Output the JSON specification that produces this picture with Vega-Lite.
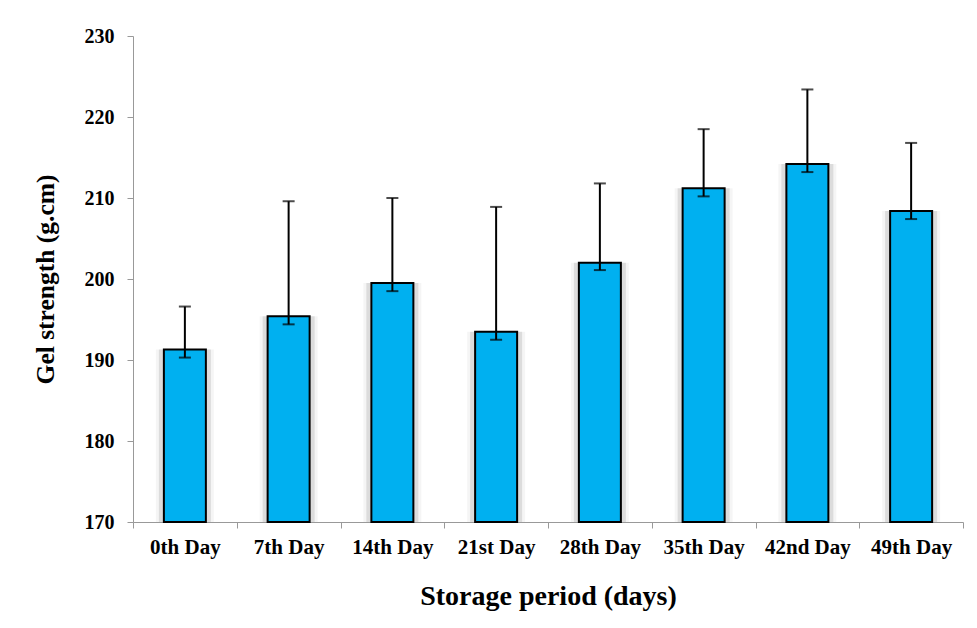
{
  "$schema": "https://vega.github.io/schema/vega-lite/v6.json",
  "width": 830,
  "height": 486,
  "autosize": {"type": "none"},
  "padding": {"left": 133, "top": 36, "right": 14, "bottom": 106},
  "background": "white",
  "config": {
    "view": {"stroke": null},
    "font": "Liberation Serif",
    "axis": {
      "labelFont": "Liberation Serif",
      "titleFont": "Liberation Serif",
      "labelFontWeight": "bold",
      "titleFontWeight": "bold",
      "labelColor": "black",
      "titleColor": "black",
      "domainColor": "#999999",
      "tickColor": "#999999",
      "grid": false
    }
  },
  "data": {
    "values": [
      {"day": "0th Day", "mean": 191.3, "lower": 190.3, "upper": 196.6},
      {"day": "7th Day", "mean": 195.4, "lower": 194.4, "upper": 209.6},
      {"day": "14th Day", "mean": 199.5, "lower": 198.5, "upper": 210.0},
      {"day": "21st Day", "mean": 193.5, "lower": 192.5, "upper": 208.9},
      {"day": "28th Day", "mean": 202.0, "lower": 201.1, "upper": 211.8},
      {"day": "35th Day", "mean": 211.2, "lower": 210.2, "upper": 218.5},
      {"day": "42nd Day", "mean": 214.2, "lower": 213.2, "upper": 223.4},
      {"day": "49th Day", "mean": 208.4, "lower": 207.4, "upper": 216.8}
    ]
  },
  "encoding": {
    "x": {
      "field": "day",
      "type": "nominal",
      "sort": null,
      "scale": {"paddingInner": 0, "paddingOuter": 0},
      "axis": {
        "title": "Storage period (days)",
        "titleFontSize": 28,
        "titlePadding": 25,
        "labelFontSize": 21,
        "labelAngle": 0,
        "labelPadding": 8,
        "tickBand": "extent",
        "tickSize": 6
      }
    }
  },
  "layer": [
    {
      "mark": {"type": "bar", "size": 58, "color": "#000000", "opacity": 0.04},
      "encoding": {
        "y": {"field": "mean", "type": "quantitative"},
        "y2": {"datum": 170}
      }
    },
    {
      "mark": {"type": "bar", "size": 52, "color": "#000000", "opacity": 0.1},
      "encoding": {
        "y": {"field": "mean", "type": "quantitative"},
        "y2": {"datum": 170}
      }
    },
    {
      "mark": {"type": "bar", "size": 42, "color": "#00B0F0", "stroke": "black", "strokeWidth": 2},
      "encoding": {
        "y": {
          "field": "mean",
          "type": "quantitative",
          "scale": {"domain": [170, 230], "zero": false, "nice": false},
          "axis": {
            "title": "Gel strength (g.cm)",
            "titleFontSize": 25.5,
            "titlePadding": 26,
            "labelFontSize": 20,
            "labelPadding": 13,
            "values": [170, 180, 190, 200, 210, 220, 230],
            "tickSize": 6
          }
        },
        "y2": {"datum": 170}
      }
    },
    {
      "mark": {"type": "rule", "color": "black", "strokeWidth": 2},
      "encoding": {
        "y": {"field": "lower", "type": "quantitative"},
        "y2": {"field": "upper"}
      }
    },
    {
      "mark": {"type": "tick", "color": "black", "size": 12, "thickness": 2},
      "encoding": {
        "y": {"field": "upper", "type": "quantitative"}
      }
    },
    {
      "mark": {"type": "tick", "color": "black", "size": 12, "thickness": 2},
      "encoding": {
        "y": {"field": "lower", "type": "quantitative"}
      }
    }
  ]
}
